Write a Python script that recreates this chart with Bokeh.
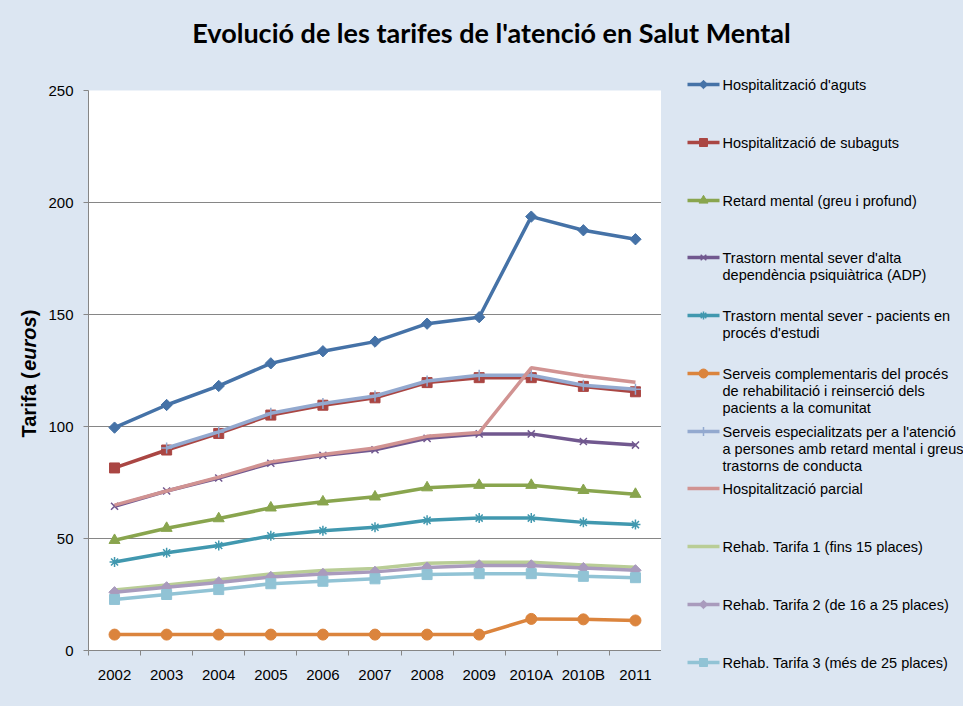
import math
from bokeh.plotting import figure
from bokeh.layouts import column, row
from bokeh.models import Range1d, FixedTicker, Label
from bokeh.core.properties import value
from bokeh.embed import file_html
from bokeh.resources import INLINE

# ---------------- data ----------------
years = ["2002", "2003", "2004", "2005", "2006", "2007", "2008", "2009", "2010A", "2010B", "2011"]
NaN = float("nan")

aguts = [99.5, 109.6, 118.1, 128.2, 133.6, 137.9, 145.9, 148.8, 193.7, 187.6, 183.6]
subaguts = [81.5, 89.5, 96.9, 105.1, 109.5, 112.8, 119.6, 121.8, 121.8, 117.9, 115.5]
retard = [49.2, 54.6, 58.9, 63.7, 66.4, 68.6, 72.7, 73.8, 73.8, 71.5, 69.8]
adp = [64.4, 71.2, 77.0, 83.6, 87.1, 89.6, 94.7, 96.7, 96.7, 93.3, 91.7]
estudi = [39.5, 43.6, 46.9, 51.2, 53.5, 55.0, 58.1, 59.1, 59.1, 57.2, 56.2]
complementaris = [7.1, 7.1, 7.1, 7.1, 7.1, 7.1, 7.1, 7.1, 14.1, 13.9, 13.4]
especialitzats = [NaN, 90.4, 97.6, 105.9, 110.3, 113.6, 120.3, 122.9, 122.9, 118.4, 116.6]
parcial = [64.9, 71.2, 77.4, 84.2, 87.5, 90.4, 95.6, 97.3, 126.2, 122.5, 119.8]
tarifa1 = [27.0, 29.2, 31.6, 34.2, 35.7, 36.6, 38.9, 39.4, 39.4, 38.2, 37.2]
tarifa2 = [26.0, 28.2, 30.4, 32.8, 34.2, 35.1, 37.0, 38.0, 38.0, 36.8, 35.8]
tarifa3 = [22.8, 25.0, 27.2, 29.8, 30.9, 32.0, 33.9, 34.3, 34.3, 33.1, 32.5]

y_ticks = [0, 50, 100, 150, 200, 250]

labels = [
    ["Hospitalització d'aguts"],
    ["Hospitalització de subaguts"],
    ["Retard mental (greu i profund)"],
    ["Trastorn mental sever d'alta", "dependència psiquiàtrica (ADP)"],
    ["Trastorn mental sever - pacients en", "procés d'estudi"],
    ["Serveis complementaris del procés", "de rehabilitació i reinserció dels", "pacients a la comunitat"],
    ["Serveis especialitzats per a l'atenció", "a persones amb retard mental i greus", "trastorns de conducta"],
    ["Hospitalització parcial"],
    ["Rehab. Tarifa 1 (fins 15 places)"],
    ["Rehab. Tarifa 2 (de 16 a 25 places)"],
    ["Rehab. Tarifa 3 (més de 25 places)"],
]
series = [aguts, subaguts, retard, adp, estudi, complementaris,
          especialitzats, parcial, tarifa1, tarifa2, tarifa3]
title_text = "Evolució de les tarifes de l'atenció en Salut Mental"
# y-axis title pieces: text, style, width in em (Arial/Liberation Sans bold metrics)
ylabel_parts = [("Tarifa (", "bold", 3.334), ("euros", "bold italic", 2.723), (")", "bold", 0.333)]

# ---------------- styles ----------------
colors = ["#4572A7", "#AA4643", "#89A54E", "#71588F", "#4198AF", "#DB843D",
          "#93A9CF", "#D19392", "#B9CD96", "#A99BBD", "#91C3D5"]
markers = ["square", "square", "triangle", "x", "asterisk", "circle",
           "cross", None, None, "square", "square"]
angles = [math.pi / 4, 0, 0, 0, 0, 0, 0, 0, 0, math.pi / 4, 0]
msizes = [8, 10, 11, 10, 10, 11, 11, 0, 0, 8, 10]
leg_msizes = [6, 8, 9, 8, 8, 9, 9, 0, 0, 6, 8]
filled = [True, True, True, False, False, True, False, False, False, True, True]

BG = "#DCE6F2"
GRID = "#868686"
FONT = "Liberation Sans"

W = 963
TITLE_H = 78
YL_W = 44
MAIN_W, ROW_H = 661 - YL_W, 628
LEG_W = W - MAIN_W - YL_W


def no_align(fig):
    if "frame_align" in fig.properties():
        fig.frame_align = False
    return fig


def bare(fig):
    fig.border_fill_color = BG
    fig.background_fill_color = BG
    fig.outline_line_color = None
    fig.xgrid.grid_line_color = None
    fig.ygrid.grid_line_color = None
    return no_align(fig)


# ---------------- title ----------------
t = bare(figure(width=W, height=TITLE_H, output_backend="svg", toolbar_location=None,
                x_range=Range1d(0, W), y_range=Range1d(0, TITLE_H),
                x_axis_location=None, y_axis_location=None, min_border=0))
t.add_layout(Label(x=491, y=TITLE_H - 32, x_units="screen", y_units="screen",
                   text=title_text, text_font="Lato", text_font_style="bold",
                   text_font_size="27px", text_color="black",
                   text_align="center", text_baseline="middle"))

# ---------------- y-axis title ----------------
yl = bare(figure(width=YL_W, height=ROW_H, output_backend="svg", toolbar_location=None,
                 x_range=Range1d(0, YL_W), y_range=Range1d(0, ROW_H),
                 x_axis_location=None, y_axis_location=None, min_border=0))
YL_FS = 20
ypos = 269.0
for txt, style, em in ylabel_parts:
    yl.text(x=[28], y=[ypos], text=[txt], angle=math.pi / 2,
            text_font=value(FONT), text_font_style=style, text_font_size=f"{YL_FS}px",
            text_color="black", text_align="left", text_baseline="middle")
    ypos += em * YL_FS

# ---------------- main plot ----------------
p = figure(width=MAIN_W, height=ROW_H, output_backend="svg", toolbar_location=None,
           x_range=Range1d(0, len(years)), y_range=Range1d(0, 250),
           min_border_left=88 - YL_W, min_border_right=0, min_border_top=12, min_border_bottom=56)
no_align(p)
p.border_fill_color = BG
p.background_fill_color = "white"
p.outline_line_color = None

xs = [i + 0.5 for i in range(len(years))]
p.xaxis.ticker = FixedTicker(ticks=xs, minor_ticks=list(range(len(years) + 1)))
p.xaxis.major_label_overrides = {x: y for x, y in zip(xs, years)}
p.xaxis.major_tick_out = 0
p.xaxis.major_tick_in = 0
p.xaxis.minor_tick_out = 5
p.xaxis.minor_tick_in = 0
p.xaxis.minor_tick_line_color = GRID
p.xaxis.axis_line_color = GRID
p.xaxis.major_label_standoff = 10
p.xaxis.major_label_text_font = FONT
p.xaxis.major_label_text_font_size = "15px"
p.xaxis.major_label_text_color = "black"

p.yaxis.ticker = FixedTicker(ticks=y_ticks)
p.yaxis.major_tick_out = 5
p.yaxis.major_tick_in = 0
p.yaxis.minor_tick_line_color = None
p.yaxis.major_tick_line_color = GRID
p.yaxis.axis_line_color = GRID
p.yaxis.major_label_standoff = 10
p.yaxis.major_label_text_font = FONT
p.yaxis.major_label_text_font_size = "15px"
p.yaxis.major_label_text_color = "black"

p.xgrid.grid_line_color = None
p.ygrid.grid_line_color = GRID
p.ygrid.grid_line_width = 1

for k, (vals, col) in enumerate(zip(series, colors)):
    p.line(xs, vals, line_color=col, line_width=3.5)
    if markers[k]:
        if filled[k]:
            p.scatter(xs, vals, marker=markers[k], size=msizes[k], angle=angles[k],
                      fill_color=col, line_color=col, line_width=1)
        else:
            p.scatter(xs, vals, marker=markers[k], size=msizes[k],
                      line_color=col, line_width=1.5)

# ---------------- legend ----------------
lg = bare(figure(width=LEG_W, height=ROW_H, output_backend="svg", toolbar_location=None,
                 x_range=Range1d(0, LEG_W), y_range=Range1d(ROW_H, 0),
                 x_axis_location=None, y_axis_location=None, min_border=0))
legend_rows = [6, 64, 122, 179, 237, 295, 353, 410, 468, 526, 584]
LINE_STEP = 17.3
GX0, GX1, TX = 26, 58, 61
for k, col in enumerate(colors):
    yc = legend_rows[k]
    lg.segment(x0=[GX0], y0=[yc], x1=[GX1], y1=[yc], line_color=col, line_width=3.5)
    if markers[k]:
        gx = (GX0 + GX1) / 2
        if filled[k]:
            lg.scatter([gx], [yc], marker=markers[k], size=leg_msizes[k], angle=angles[k],
                       fill_color=col, line_color=col, line_width=1)
        else:
            lg.scatter([gx], [yc], marker=markers[k], size=leg_msizes[k],
                       line_color=col, line_width=1.5)
    lines = labels[k]
    lg.text(x=[TX] * len(lines), y=[yc + j * LINE_STEP for j in range(len(lines))],
            text=lines, text_font=value(FONT), text_font_size="14.5px",
            text_color="black", text_align="left", text_baseline="middle")

layout = column(t, row(yl, p, lg, spacing=0, styles={"background-color": BG}),
                spacing=0, styles={"background-color": BG})
open("out.html", "w").write(file_html(layout, INLINE))
